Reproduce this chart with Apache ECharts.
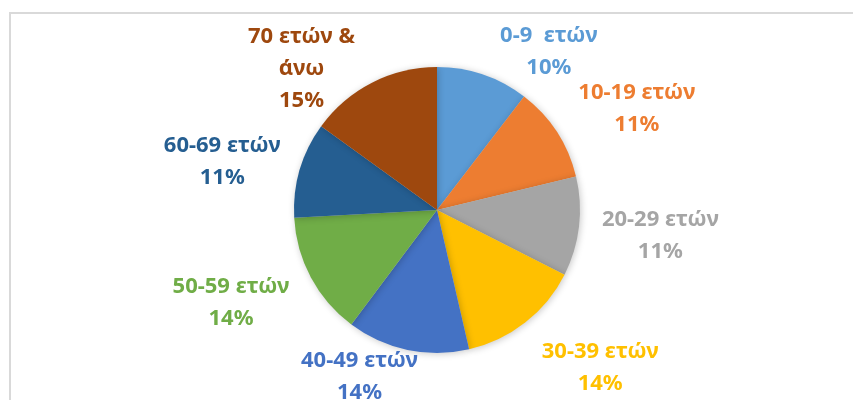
<!DOCTYPE html>
<html>
<head>
	<meta charset="utf-8">
	<title>Κατανομή ανά ηλικία</title>
	<script src="https://cdn.jsdelivr.net/npm/echarts@6/dist/echarts.min.js"></script>
	<style>
		html, body{
			margin: 0;
			padding: 0;
			background: #fff;
		}
		#chart{
			width: 853px;
			height: 400px;
		}
	</style>
</head>
<body>
<div id="chart"></div>
<script>
	// ηλικιακές ομάδες και μερίδια (εκτίμηση από τις γωνίες των τομέων)
	var ageGroups = ['0-9  ετών', '10-19 ετών', '20-29 ετών', '30-39 ετών', '40-49 ετών', '50-59 ετών', '60-69 ετών', '70 ετών &\nάνω'];
	var shares = [10.4, 10.8, 11.2, 13.9, 13.8, 13.9, 10.8, 15.0];
	var sliceColors = ['#5B9BD5', '#ED7D31', '#A5A5A5', '#FFC000', '#4472C4', '#70AD47', '#255E91', '#9E480E'];

	// μικρές μετατοπίσεις ετικετών, όπως τις βάζει το Excel
	var labelNudge = [[2, -2], [-5, -11], [-7, 7], [-5, 28], [23, 5], [6, 15], [10, -2], [1, 6]];

	var pieData = ageGroups.map(function(name, i){
		return {
			name: name,
			value: shares[i],
			itemStyle: { color: sliceColors[i] },
			label: { color: sliceColors[i] }
		};
	});

	var option = {
		animation: false,
		graphic: [{
			type: 'rect',
			shape: { x: 10, y: 13, width: 900, height: 500 },
			style: { fill: 'none', stroke: '#d9d9d9', lineWidth: 2 },
			silent: true
		}],
		series: [{
			type: 'pie',
			center: [437, 210],
			radius: 143,
			startAngle: 90,
			clockwise: true,
			avoidLabelOverlap: false,
			itemStyle: {
				borderWidth: 0,
				shadowBlur: 7,
				shadowColor: 'rgba(0,0,0,0.22)',
				shadowOffsetX: 1,
				shadowOffsetY: 1
			},
			label: {
				show: true,
				position: 'outside',
				fontFamily: 'Noto Sans',
				fontWeight: 'bold',
				fontSize: 22,
				lineHeight: 32,
				formatter: function(p){
					return p.name + '\n' + Math.round(p.percent) + '%';
				},
				textAlign: 'center'
			},
			labelLine: {
				show: false,
				length: 22,
				length2: 3
			},
			labelLayout: function(params){
				var r = params.labelRect;
				var n = labelNudge[params.dataIndex];
				return {
					x: r.x + r.width / 2 + n[0],
					y: r.y + r.height / 2 + n[1],
					align: 'center',
					verticalAlign: 'middle'
				};
			},
			emphasis: { disabled: true },
			data: pieData
		}]
	};

	var myChart = echarts.init(document.getElementById('chart'));
	myChart.setOption(option);
</script>
</body>
</html>
